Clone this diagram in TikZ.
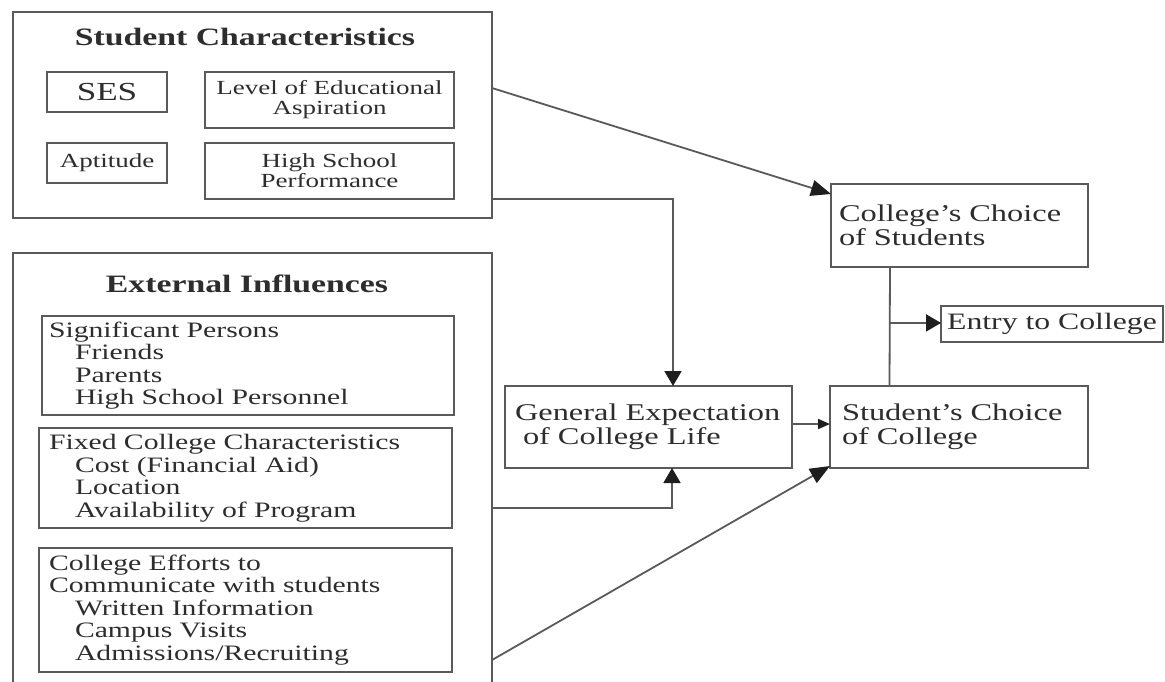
\documentclass[tikz,border=0pt]{standalone}
\usepackage{fontspec}
\setmainfont[FakeStretch=1.35]{Liberation Serif}
\usetikzlibrary{arrows.meta,calc}
\definecolor{linecol}{RGB}{90,90,90}
\definecolor{tipcol}{RGB}{30,30,30}
\definecolor{txtcol}{RGB}{45,45,45}
\begin{document}
\begin{tikzpicture}[x=1pt,y=-1pt,
  box/.style={draw=linecol,line width=1.8pt,anchor=north west,inner sep=0pt,outer sep=0pt,text=txtcol},
  lbox/.style={box,align=left,font=\fontsize{22}{22.5}\selectfont},
  rbox/.style={box,align=left,font=\fontsize{24}{24}\selectfont},
  sbox/.style={box,align=center,font=\fontsize{20}{20}\selectfont},
  ttl/.style={text=txtcol,font=\fontsize{25}{27}\selectfont\bfseries,inner sep=0pt},
  conn/.style={draw=linecol,line width=1.8pt},
  arrbig/.style={conn,-{Triangle[length=20pt,width=16pt,color=tipcol]}},
  arrmid/.style={conn,-{Triangle[length=15pt,width=17pt,color=tipcol]}},
  arrsmall/.style={conn,-{Triangle[length=12pt,width=10pt,color=tipcol]}}]
\useasboundingbox (0,0) rectangle (1165,681);
\fill[white] (0,0) rectangle (1165,681);
\clip (0,0) rectangle (1165,681);

% Student characteristics
\node[box,minimum width=479,minimum height=206] (sc) at (13,12) {};
\node[ttl] (sctitle) at (245,37) {Student Characteristics};
\node[sbox,minimum width=120,minimum height=40,font=\fontsize{26}{26}\selectfont] (ses) at (47,72) {SES};
\node[sbox,minimum width=249,minimum height=56] (lea) at (205,72) {Level of Educational\\Aspiration};
\node[sbox,minimum width=120,minimum height=40] (apt) at (47,143) {Aptitude};
\node[sbox,minimum width=249,minimum height=56] (hsp) at (205,143) {High School\\Performance};

% External influences
\node[box,minimum width=479,minimum height=447] (ei) at (13,253) {};
\node[ttl] (eititle) at (247,284) {External Influences};
\node[lbox,minimum width=412,minimum height=99,text width=398pt,inner xsep=7pt] (sig) at (42,316)
  {Significant Persons\\\hspace*{26pt}Friends\\\hspace*{26pt}Parents\\\hspace*{26pt}High School Personnel};
\node[lbox,minimum width=413,minimum height=100,text width=393pt,inner xsep=10pt] (fix) at (39,428)
  {Fixed College Characteristics\\\hspace*{26pt}Cost (Financial Aid)\\\hspace*{26pt}Location\\\hspace*{26pt}Availability of Program};
\node[lbox,minimum width=413,minimum height=124,text width=393pt,inner xsep=10pt] (eff) at (39,548)
  {College Efforts to\\Communicate with students\\\hspace*{26pt}Written Information\\\hspace*{26pt}Campus Visits\\\hspace*{26pt}Admissions/Recruiting};

% Right side
\node[rbox,minimum width=257,minimum height=83,text width=241pt,inner xsep=8pt] (cc) at (831,184)
  {College's Choice\\of Students};
\node[rbox,minimum width=287,minimum height=82,text width=267pt,inner xsep=10pt] (ge) at (505,386)
  {General Expectation\\\hspace*{8pt}of College Life};
\node[rbox,minimum width=258,minimum height=82,text width=234pt,inner xsep=12pt] (sch) at (830,386)
  {Student's Choice\\of College};
\node[box,minimum width=222,minimum height=36,align=center,font=\fontsize{23.5}{24}\selectfont] (entry) at (941,306)
  {Entry to College};

% Connectors
\draw[arrbig] ([yshift=-76pt]sc.north east) -- ([yshift=-10pt]cc.north west);
\draw[arrmid] ([yshift=19pt]sc.south east) -| ([xshift=24.5pt]ge.north);
\draw[arrmid] ([yshift=-255pt]ei.north east) -| ([xshift=23.5pt]ge.south);
\draw[arrbig] ([yshift=-407pt]ei.north east) -- ([yshift=2pt]sch.south west);
\draw[arrsmall] ([yshift=3pt]ge.east) -- ([yshift=3pt]sch.west);
\draw[conn] ([xshift=-69.5pt]cc.south) -- ([xshift=-69.5pt]sch.north);
\coordinate (j) at ($([xshift=-69.5pt]cc.south)!0.47!([xshift=-69.5pt]sch.north)$);
\draw[arrmid] (j) -- (j -| entry.west);
\end{tikzpicture}
\end{document}
